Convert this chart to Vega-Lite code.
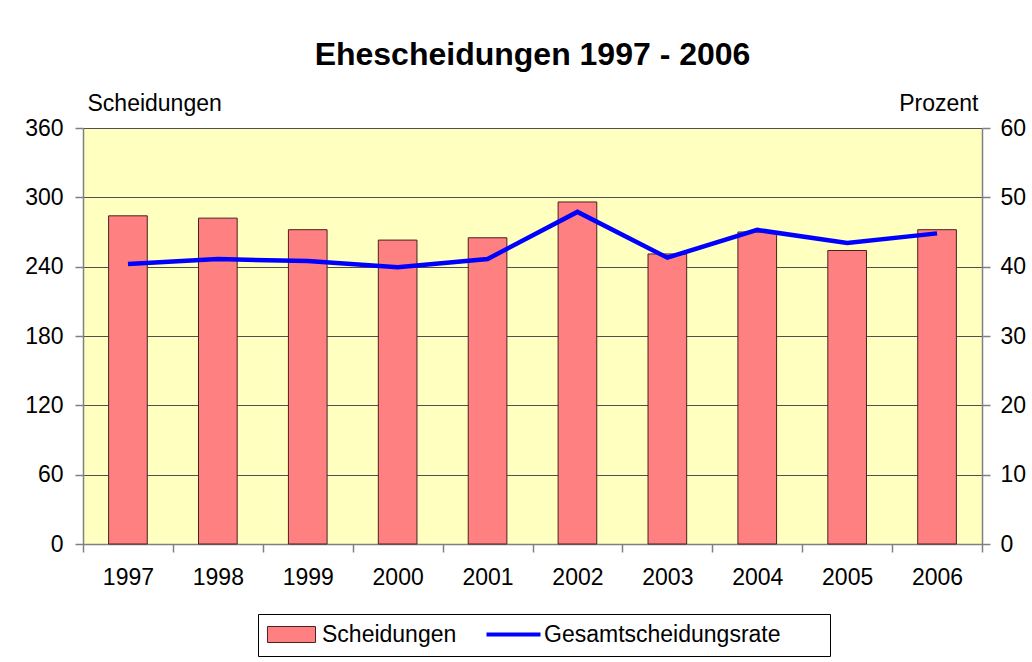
{
  "$schema": "https://vega.github.io/schema/vega-lite/v6.json",
  "width": 899,
  "height": 416,
  "autosize": {"type": "none"},
  "padding": {"left": 83, "top": 128, "right": 50, "bottom": 118},
  "background": "white",
  "config": {
    "font": "Liberation Sans",
    "view": {"fill": "#FFFFC0", "stroke": null},
    "axis": {"labelFont": "Liberation Sans", "titleFont": "Liberation Sans", "labelColor": "black", "titleColor": "black"},
    "legend": {"labelFont": "Liberation Sans", "labelFontSize": 23, "labelColor": "black", "labelLimit": 1000}
  },
  "title": {
    "text": "Ehescheidungen 1997 - 2006",
    "fontSize": 32,
    "fontWeight": "bold",
    "font": "Liberation Sans",
    "color": "black",
    "anchor": "middle",
    "offset": 20
  },
  "data": {
    "values": [
      {"jahr": "1997", "scheidungen": 284, "rate": 40.4},
      {"jahr": "1998", "scheidungen": 282, "rate": 41.1},
      {"jahr": "1999", "scheidungen": 272, "rate": 40.8},
      {"jahr": "2000", "scheidungen": 263, "rate": 39.9},
      {"jahr": "2001", "scheidungen": 265, "rate": 41.1},
      {"jahr": "2002", "scheidungen": 296, "rate": 47.9},
      {"jahr": "2003", "scheidungen": 251, "rate": 41.3},
      {"jahr": "2004", "scheidungen": 270, "rate": 45.3},
      {"jahr": "2005", "scheidungen": 254, "rate": 43.4},
      {"jahr": "2006", "scheidungen": 272, "rate": 44.8}
    ]
  },
  "encoding": {
    "x": {
      "field": "jahr",
      "type": "ordinal",
      "scale": {"paddingInner": 0, "paddingOuter": 0},
      "axis": {
        "title": null,
        "labelAngle": 0,
        "labelFontSize": 23,
        "labelPadding": 14,
        "tickBand": "extent",
        "tickSize": 8,
        "tickColor": "#808080",
        "domainColor": "#808080",
        "domainWidth": 1.5,
        "tickWidth": 1.5
      }
    }
  },
  "layer": [
    {
      "mark": {"type": "bar", "stroke": "#4a2020", "strokeWidth": 1, "width": {"band": 0.43}},
      "encoding": {
        "y": {
          "field": "scheidungen",
          "type": "quantitative",
          "scale": {"domain": [0, 360], "nice": false},
          "axis": {
            "values": [0, 60, 120, 180, 240, 300, 360],
            "title": "Scheidungen",
            "titleAngle": 0,
            "titleAlign": "left",
            "titleBaseline": "middle",
            "titleX": 4,
            "titleY": -25,
            "titleFontSize": 23,
            "titleFontWeight": "normal",
            "labelFontSize": 23,
            "labelPadding": 12,
            "tickSize": 8,
            "tickColor": "#808080",
            "tickWidth": 1.5,
            "domainColor": "#808080",
            "domainWidth": 1.5,
            "grid": true,
            "gridColor": "#505050",
            "gridOpacity": 1,
            "gridWidth": 1.2
          }
        },
        "fill": {
          "datum": "Scheidungen\u00a0\u00a0\u00a0\u00a0\u00a0\u00a0\u00a0\u00a0\u00a0\u00a0\u00a0\u00a0\u00a0\u00a0\u00a0\u00a0\u00a0\u00a0\u00a0\u00a0\u00a0\u00a0\u00a0\u00a0\u00a0\u00a0\u00a0\u00a0\u00a0\u00a0\u00a0\u00a0\u00a0\u00a0\u00a0\u00a0\u00a0\u00a0\u00a0\u00a0\u00a0\u00a0\u00a0\u00a0\u00a0\u00a0\u00a0\u00a0\u00a0\u00a0\u00a0\u00a0\u00a0\u00a0\u00a0\u00a0\u00a0\u200b",
          "scale": {"range": ["#FF8080"]},
          "legend": {
            "title": null,
            "orient": "none",
            "legendX": 175,
            "legendY": 486,
            "strokeColor": "black",
            "padding": 9,
            "labelOffset": 19,
            "symbolOffset": 13,
            "symbolSize": 324,
            "symbolType": "M-2.67,-0.89H2.67V0.89H-2.67Z",
            "symbolStrokeColor": "#4a2020",
            "symbolStrokeWidth": 1,
            "symbolOpacity": 1
          }
        }
      }
    },
    {
      "mark": {"type": "line", "strokeWidth": 4.5},
      "encoding": {
        "y": {
          "field": "rate",
          "type": "quantitative",
          "scale": {"domain": [0, 60], "nice": false},
          "axis": {
            "orient": "right",
            "values": [0, 10, 20, 30, 40, 50, 60],
            "title": "Prozent",
            "titleAngle": 0,
            "titleAlign": "right",
            "titleBaseline": "middle",
            "titleX": -4,
            "titleY": -25,
            "titleFontSize": 23,
            "titleFontWeight": "normal",
            "labelFontSize": 23,
            "labelPadding": 10,
            "tickSize": 8,
            "tickColor": "#808080",
            "tickWidth": 1.5,
            "domainColor": "#808080",
            "domainWidth": 1.5,
            "grid": false
          }
        },
        "stroke": {
          "datum": "Gesamtscheidungsrate",
          "scale": {"domain": ["Gesamtscheidungsrate"], "range": ["#0000FF"]},
          "legend": {
            "title": null,
            "orient": "none",
            "legendX": 397,
            "legendY": 486,
            "padding": 9,
            "labelOffset": 19,
            "symbolOffset": 13,
            "symbolSize": 324,
            "symbolType": "M-3,0H3",
            "symbolStrokeWidth": 4,
            "symbolOpacity": 1
          }
        }
      }
    }
  ],
  "resolve": {"scale": {"y": "independent"}}
}
